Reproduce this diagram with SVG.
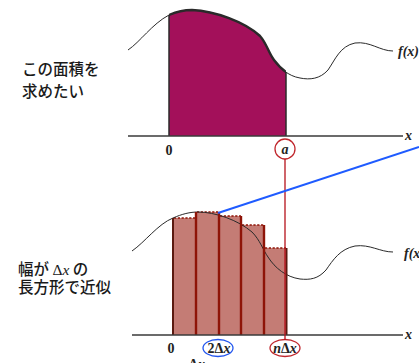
<svg xmlns="http://www.w3.org/2000/svg" width="419" height="363" viewBox="0 0 419 363">
<style>
.jp{font-family:"Noto Sans CJK JP","Noto Sans",sans-serif;font-size:15.5px;font-weight:500;fill:#1a1a1a}
.lb{font-family:"Liberation Serif","Times New Roman",serif;font-weight:bold;font-size:14px;fill:#222}
.it{font-style:italic}
.axis{stroke:#3a3a3a;stroke-width:1.6;fill:none}
.curve{stroke:#2a2a2a;stroke-width:1;fill:none}
.bar{fill:#C47C75}
.div{stroke:#8E1408;stroke-width:2.4}
.dot{stroke:#8E1408;stroke-width:1.6;stroke-dasharray:2.2 1.6;fill:none}
</style>
<defs>
<clipPath id="cTop"><rect x="169" y="0" width="117" height="136"/></clipPath>
</defs>
<rect width="419" height="363" fill="#fff"/>

<g id="top-chart">
<path d="M128,50 C140,42 152,24 169,15 C178,11 185,10 192,10 C215,11 245,22 260,36 C267,44 268,52 274,60 C280,68 288,76 300,78 L300,136 L128,136 Z" fill="#A3105A" clip-path="url(#cTop)"/>
<path d="M128,50 C140,42 152,24 169,15 C178,11 185,10 192,10 C215,11 245,22 260,36 C267,44 268,52 274,60 C280,68 288,76 300,78" stroke="#2a2a2a" stroke-width="2.4" fill="none" clip-path="url(#cTop)"/>
<path class="curve" d="M128,50 C140,42 152,24 169,15 C178,11 185,10 192,10 C215,11 245,22 260,36 C267,44 268,52 274,60 C280,68 288,76 300,78 C310,80 320,79 328,70 C335,60 340,46 355,43 C370,41 380,51 393,51"/>
<line x1="169" y1="15" x2="169" y2="136" stroke="#2a2a2a" stroke-width="1.5"/>
<line x1="286" y1="73" x2="286" y2="136" stroke="#2a2a2a" stroke-width="1.5"/>
<line class="axis" x1="128" y1="136" x2="403" y2="136"/>
<text class="lb it" x="398" y="56" font-size="18">f(x)</text>
<text class="lb it" x="405" y="140" font-size="15">x</text>
<text class="lb" x="169" y="155" text-anchor="middle">0</text>
</g>

<g id="label-a">
<circle cx="285" cy="149" r="10" fill="#fff" stroke="#C0272D" stroke-width="1.3"/>
<text class="lb it" x="285" y="154" text-anchor="middle" font-size="15">a</text>
</g>

<g id="bottom-chart">
<rect class="bar" x="173" y="218" width="23" height="117"/>
<rect class="bar" x="196" y="212" width="23" height="123"/>
<rect class="bar" x="219" y="216" width="22" height="119"/>
<rect class="bar" x="241" y="225" width="23" height="110"/>
<rect class="bar" x="264" y="248" width="22" height="87"/>
<path class="dot" d="M174,218 H196 M197,212 H219 M220,216 H241 M242,225 H264 M265,248 H286"/>
<path class="curve" d="M132,251 C145,242 158,224 173,218 C182,214 190,212 198,212 C215,212 238,220 252,232 C260,240 263,250 268,257 C275,268 286,277 300,279 C310,280 318,279 326,270 C333,260 340,249 355,246 C370,244 380,252 393,252"/>
<line x1="173" y1="218" x2="173" y2="335" stroke="#5a1a10" stroke-width="2"/>
<line class="div" x1="196" y1="212" x2="196" y2="335"/>
<line class="div" x1="219" y1="212" x2="219" y2="335"/>
<line class="div" x1="241" y1="216" x2="241" y2="335"/>
<line class="div" x1="264" y1="225" x2="264" y2="335"/>
<line x1="286.5" y1="248" x2="286.5" y2="335" stroke="#5a1a10" stroke-width="2"/>
<line class="axis" x1="132" y1="335" x2="403" y2="335"/>
<text class="lb it" x="404" y="258" font-size="18">f(x)</text>
<text class="lb it" x="405" y="339" font-size="15">x</text>
<text class="lb" x="171" y="353" text-anchor="middle">0</text>
<text class="lb" x="197" y="369" text-anchor="middle" font-size="15">Δ<tspan class="it">x</tspan></text>
</g>

<g id="label-2dx">
<ellipse cx="218" cy="348" rx="15" ry="8.5" fill="none" stroke="#2255EE" stroke-width="1.3"/>
<text class="lb" x="219" y="353" text-anchor="middle">2Δ<tspan class="it">x</tspan></text>
</g>

<g id="label-ndx">
<ellipse cx="285" cy="348" rx="15" ry="8.5" fill="none" stroke="#C0272D" stroke-width="1.3"/>
<text class="lb" x="285" y="353" text-anchor="middle"><tspan class="it">n</tspan>Δ<tspan class="it">x</tspan></text>
</g>

<g id="text-top">
<text class="jp" x="22" y="75">この面積を</text>
<text class="jp" x="22" y="97">求めたい</text>
</g>

<g id="text-bottom">
<text class="jp" x="18" y="275">幅が <tspan font-family="Liberation Serif,serif" font-weight="normal">Δ<tspan font-style="italic">x</tspan></tspan> の</text>
<text class="jp" x="18" y="293">長方形で近似</text>
</g>

<g id="connectors">
<line x1="285" y1="159" x2="285" y2="340" stroke="#B5121B" stroke-width="1.3"/>
<line x1="218" y1="213" x2="419" y2="147" stroke="#1F5BFF" stroke-width="2"/>
</g>
</svg>
